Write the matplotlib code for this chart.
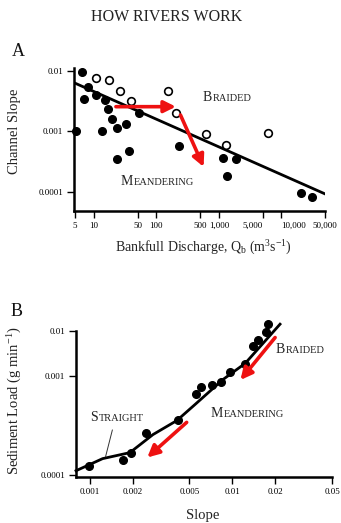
import numpy as np
import matplotlib
matplotlib.use("Agg")
import matplotlib.pyplot as plt
from matplotlib.offsetbox import TextArea, HPacker, AnnotationBbox

plt.rcParams['font.family'] = ['Liberation Serif', 'DejaVu Serif']
plt.rcParams['mathtext.fontset'] = 'custom'
plt.rcParams['mathtext.rm'] = 'Liberation Serif'
plt.rcParams['mathtext.it'] = 'Liberation Serif:italic'

# ---------------- Panel A data ----------------
a_filled_q = [6.5, 7.0, 7.9, 10.8, 15.2, 16.5, 19.4, 23, 32.6, 13.4, 5.2, 52, 23.4, 35.9,
              234, 1160, 1900, 1370, 21000, 30600]
a_filled_s = [0.0095, 0.0034, 0.0055, 0.0040, 0.0033, 0.00236, 0.0016, 0.00116, 0.00133,
              0.00102, 0.0010, 0.0020, 0.00035, 0.00048, 0.00058, 0.00037, 0.00035,
              0.000186, 0.000095, 0.000084]
a_open_q = [10.9, 17.6, 26.1, 39.3, 152, 207, 613, 1316, 6140]
a_open_s = [0.0077, 0.0071, 0.0047, 0.0032, 0.0047, 0.00205, 0.00091, 0.0006, 0.00096]
a_fit_q = [4.8, 50000]
a_fit_s = [0.0064, 0.000093]
a_arrow1 = [(22.5, 0.00257), (205, 0.00257)]
a_arrow2 = [(243, 0.00187), (570, 0.00026)]
a_xticks = [5, 10, 50, 100, 500, 1000, 5000, 10000, 50000]
a_xticklabels = ['5', '10', '50', '100', '500', '1,000', '5,000', '10,000', '50,000']
a_yticks = [0.0001, 0.001, 0.01]
a_yticklabels = ['0.0001', '0.001', '0.01']

# ---------------- Panel B data ----------------
b_slope = [0.00099, 0.0017, 0.00196, 0.00247, 0.00417, 0.00556, 0.00605, 0.00716, 0.00826,
           0.00968, 0.0122, 0.0140, 0.0152, 0.0172, 0.0178]
b_load = [0.000124, 0.000142, 0.000166, 0.000266, 0.000364, 0.00067, 0.000785, 0.00082,
          0.00087, 0.00124, 0.00192, 0.0046, 0.0063, 0.0098, 0.0145]
b_curve_x = [0.0008, 0.00123, 0.00191, 0.00277, 0.00408, 0.00547, 0.0086, 0.0123, 0.0216]
b_curve_y = [0.000110, 0.000146, 0.000168, 0.000256, 0.000356, 0.000518, 0.00093, 0.00194, 0.0143]
b_arrow1 = [(0.01995, 0.00724), (0.0114, 0.00092)]
b_arrow2 = [(0.00478, 0.000341), (0.00253, 0.000150)]
b_xticks = [0.001, 0.002, 0.005, 0.01, 0.02, 0.05]
b_xticklabels = ['0.001', '0.002', '0.005', '0.01', '0.02', '0.05']
b_yticks = [0.0001, 0.001, 0.01]
b_yticklabels = ['0.0001', '0.001', '0.01']

RED = '#ee1111'
W, H = 341, 523

fig = plt.figure(figsize=(W / 100, H / 100), dpi=100)


def fr(x0, y0, x1, y1):
    return [x0 / W, 1 - y1 / H, (x1 - x0) / W, (y1 - y0) / H]


def style(ax):
    for s in ['top', 'right']:
        ax.spines[s].set_visible(False)
    for s in ['left', 'bottom']:
        ax.spines[s].set_linewidth(1.8)
    ax.tick_params(which='major', direction='out', length=5, width=1.0,
                   labelsize=6.5, pad=3)
    ax.tick_params(which='minor', length=0)
    ax.minorticks_off()


def smallcaps(ax, x, y, word, big=10, small=7.5):
    t1 = TextArea(word[0], textprops=dict(fontsize=big, color='#222222'))
    t2 = TextArea(word[1:], textprops=dict(fontsize=small, color='#222222'))
    box = HPacker(children=[t1, t2], align='baseline', pad=0, sep=0.5)
    ab = AnnotationBbox(box, (x, y), xycoords='data', frameon=False,
                        box_alignment=(0.5, 0.5), pad=0)
    ax.add_artist(ab)


def arrow(ax, p0, p1):
    ax.annotate('', xy=p1, xytext=p0, xycoords='data',
                arrowprops=dict(arrowstyle='-|>,head_length=0.7,head_width=0.35',
                                color=RED, lw=2.6, shrinkA=0, shrinkB=0))


# ---------------- Panel A ----------------
axA = fig.add_axes(fr(74, 68, 325, 211))
axA.set_xscale('log')
axA.set_yscale('log')
axA.set_xlim(4.8, 50000)
axA.set_ylim(4.85e-5, 0.0112)
axA.plot(a_fit_q, a_fit_s, color='black', lw=2.0, zorder=2)
axA.plot(a_filled_q, a_filled_s, 'o', color='black', ms=5.5, zorder=3, clip_on=False)
axA.plot(a_open_q, a_open_s, 'o', mfc='white', mec='black', mew=1.2, ms=5.5, zorder=3,
         clip_on=False)
axA.set_xticks(a_xticks)
axA.set_xticklabels(a_xticklabels)
axA.set_yticks(a_yticks)
axA.set_yticklabels(a_yticklabels)
style(axA)
for lab in axA.get_xticklabels():
    if lab.get_text() == '10,000':
        lab.set_horizontalalignment('left')
        lab.set_x(8500)
    if lab.get_text() == '5,000':
        lab.set_horizontalalignment('right')
        lab.set_x(6500)
arrow(axA, *a_arrow1)
arrow(axA, *a_arrow2)
smallcaps(axA, 1350, 0.0036, 'BRAIDED')
smallcaps(axA, 104, 0.000147, 'MEANDERING')

# ---------------- Panel B ----------------
K = 98 / 45


def fwd(y):
    l = np.log10(np.clip(y, 1e-12, None))
    return np.where(l <= -3, (l + 4) * K, K + (l + 3))


def inv(t):
    t = np.asarray(t, dtype=float)
    l = np.where(t <= K, t / K - 4, t - K - 3)
    return 10 ** l


axB = fig.add_axes(fr(76, 331, 332, 477))
axB.set_xscale('log')
axB.set_yscale('function', functions=(fwd, inv))
axB.set_xlim(0.0008, 0.05)
axB.set_ylim(0.000095, 0.0101)
axB.plot(b_curve_x, b_curve_y, color='black', lw=2.0, zorder=2, clip_on=False)
axB.plot(b_slope, b_load, 'o', color='black', ms=5.5, zorder=3, clip_on=False)
axB.set_xticks(b_xticks)
axB.set_xticklabels(b_xticklabels)
axB.set_yticks(b_yticks)
axB.set_yticklabels(b_yticklabels)
style(axB)
arrow(axB, *b_arrow1)
arrow(axB, *b_arrow2)
smallcaps(axB, 0.030, 0.0040, 'BRAIDED')
smallcaps(axB, 0.0127, 0.000424, 'MEANDERING')
smallcaps(axB, 0.00155, 0.00038, 'STRAIGHT')
axB.annotate('', xy=(0.00129, 0.000153), xytext=(0.00144, 0.000286),
             arrowprops=dict(arrowstyle='-', color='#333333', lw=0.7, shrinkA=0, shrinkB=0))

# ---------------- Text ----------------
fig.text(167 / W, 1 - 17 / H, 'HOW RIVERS WORK', ha='center', va='center',
         fontsize=11.5, color='#222222')
fig.text(18 / W, 1 - 52 / H, 'A', ha='center', va='center', fontsize=13, color='#111111')
fig.text(17 / W, 1 - 311 / H, 'B', ha='center', va='center', fontsize=13, color='#111111')
fig.text(15 / W, 1 - 131 / H, 'Channel Slope', rotation=90, ha='center', va='center',
         fontsize=10.5, color='#222222')
fig.text(203 / W, 1 - 248 / H, r'Bankfull Discharge, Q$_\mathrm{b}$ (m$^\mathrm{3}$s$^\mathrm{-1}$)',
         ha='center', va='center', fontsize=10, color='#222222')
fig.text(15 / W, 1 - 401 / H, r'Sediment Load (g min$^\mathrm{-1}$)', rotation=90,
         ha='center', va='center', fontsize=10.5, color='#222222')
fig.text(203 / W, 1 - 515 / H, 'Slope', ha='center', va='center', fontsize=10.5,
         color='#222222')

fig.savefig('out.png', dpi=100)
